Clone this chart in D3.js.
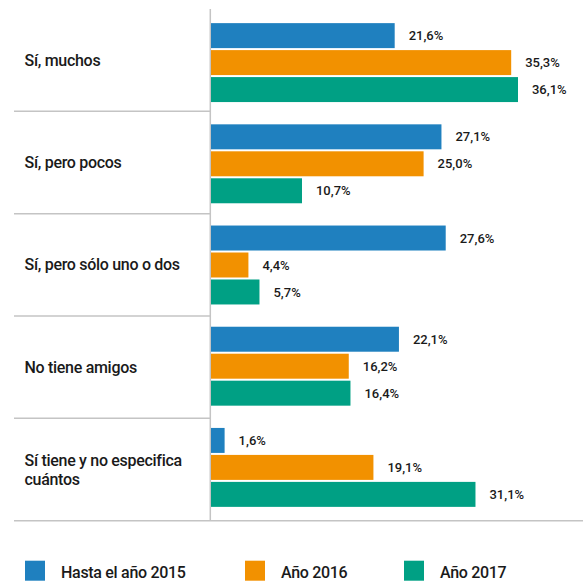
<!DOCTYPE html>
<html>
<head>
<meta charset="utf-8">
<script src="https://cdn.jsdelivr.net/npm/d3@7"></script>
<style>
  body { margin: 0; background: #fff; }
  text { font-family: Roboto, "Noto Sans", sans-serif; fill: #1a1a1a; }
</style>
</head>
<body>
<div class="chart"></div>
<script>
var categories = ["Sí, muchos", "Sí, pero pocos", "Sí, pero sólo uno o dos", "No tiene amigos", "Sí tiene y no especifica\ncuántos"];
var seriesNames = ["Hasta el año 2015", "Año 2016", "Año 2017"];
var hasta2015 = [21.6, 27.1, 27.6, 22.1, 1.6];
var ano2016 = [35.3, 25.0, 4.4, 16.2, 19.1];
var ano2017 = [36.1, 10.7, 5.7, 16.4, 31.1];
var colors = ["#1f80bf", "#f29100", "#00a084"];

var svgWidth = 586;
var svgHeight = 587;

var svg = d3.select(".chart")
  .append("svg")
  .attr("width", svgWidth)
  .attr("height", svgHeight);

var series = [hasta2015, ano2016, ano2017];
var rows = categories.map(function(c, i) {
  return { cat: c, values: series.map(function(s, j) { return { key: seriesNames[j], value: s[i] }; }) };
});

var fmt = d3.formatLocale({ decimal: ",", thousands: ".", grouping: [3], currency: ["", "€"] }).format(".1f");

// scales
var x = d3.scaleLinear().domain([0, 40]).range([211, 211 + 40 * 8.504]);
var yBand = d3.scaleBand().domain(categories).range([9, 520.7]);
var yBars = d3.scaleBand().domain(categories).range([12, 518]).paddingInner(0.22).paddingOuter(0.11);
var ySeries = d3.scaleBand().domain(seriesNames).range([0, yBars.bandwidth()]).paddingInner(0.074);

// separators
svg.selectAll("line.sep")
  .data(categories.slice(1))
  .enter()
  .append("line")
  .attr("class", "sep")
  .attr("x1", 14)
  .attr("x2", 210)
  .attr("y1", d => yBand(d))
  .attr("y2", d => yBand(d))
  .attr("stroke", "#c4c4c4")
  .attr("stroke-width", 1.5);

svg.append("line")
  .attr("x1", 14)
  .attr("x2", 583)
  .attr("y1", yBand.range()[1])
  .attr("y2", yBand.range()[1])
  .attr("stroke", "#c4c4c4")
  .attr("stroke-width", 1.5);

svg.append("line")
  .attr("x1", 210.3)
  .attr("x2", 210.3)
  .attr("y1", yBand.range()[0])
  .attr("y2", yBand.range()[1])
  .attr("stroke", "#c4c4c4")
  .attr("stroke-width", 1.5);

// category labels
svg.selectAll("text.cat")
  .data(categories)
  .enter()
  .append("text")
  .attr("class", "cat")
  .attr("x", 24.5)
  .attr("y", d => yBand(d) + yBand.bandwidth() / 2)
  .style("font-size", "16px")
  .style("font-weight", 500)
  .style("letter-spacing", "-0.3px")
  .each(function(d) {
    var lines = d.split("\n");
    var t = d3.select(this);
    lines.forEach(function(l, i) {
      t.append("tspan")
        .attr("x", 24.5)
        .attr("dy", i === 0 ? (0.35 - (lines.length - 1) * 0.6) + "em" : "1.2em")
        .text(l);
    });
  });

// bars
var groups = svg.selectAll("g.group")
  .data(rows)
  .enter()
  .append("g")
  .attr("class", "group")
  .attr("transform", d => `translate(0, ${yBars(d.cat)})`);

groups.selectAll("rect")
  .data(d => d.values)
  .enter()
  .append("rect")
  .attr("x", x(0))
  .attr("y", d => ySeries(d.key))
  .attr("width", d => x(d.value) - x(0))
  .attr("height", ySeries.bandwidth())
  .attr("fill", (d, i) => colors[i]);

groups.selectAll("text.val")
  .data(d => d.values)
  .enter()
  .append("text")
  .attr("class", "val")
  .attr("x", d => x(d.value) + 14)
  .attr("y", d => ySeries(d.key) + ySeries.bandwidth() / 2)
  .attr("dy", "0.35em")
  .style("font-size", "13px")
  .style("font-weight", 500)
  .text(d => fmt(d.value) + "%");

// legend
var legendX = [25, 245, 404];
var legend = svg.selectAll("g.legend")
  .data(seriesNames)
  .enter()
  .append("g")
  .attr("class", "legend")
  .attr("transform", (d, i) => `translate(${legendX[i]}, 560.7)`);

legend.append("rect")
  .attr("width", 20)
  .attr("height", 20)
  .attr("fill", (d, i) => colors[i]);

legend.append("text")
  .attr("x", 36)
  .attr("y", 17)
  .style("font-size", "16px")
  .style("font-weight", 500)
  .style("letter-spacing", "-0.3px")
  .text(d => d);
</script>
</body>
</html>
